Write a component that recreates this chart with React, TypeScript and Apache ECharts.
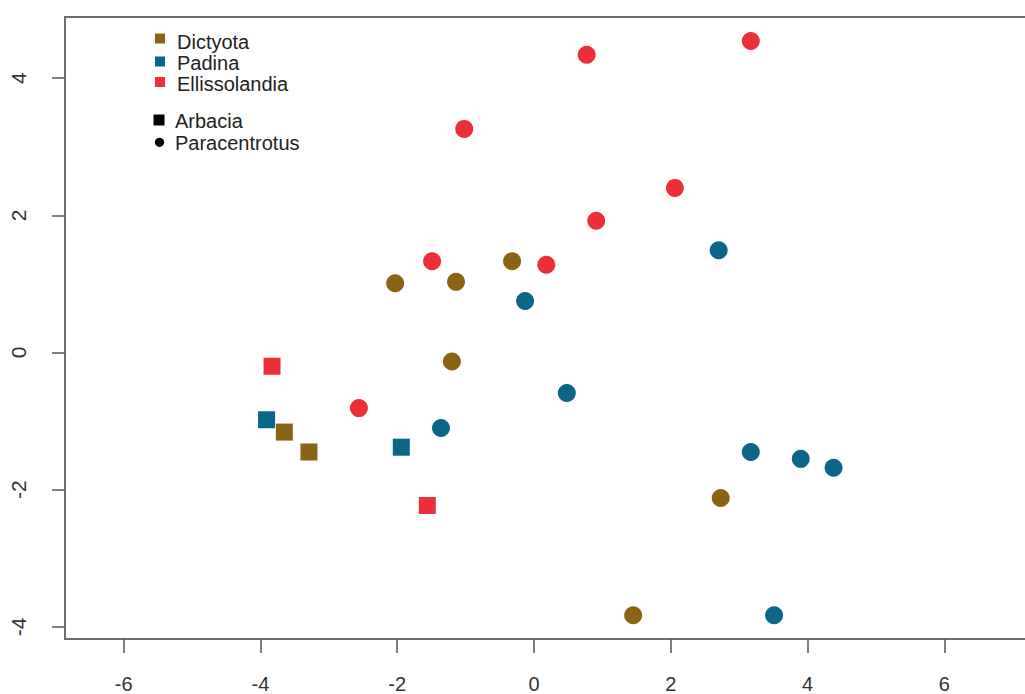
import React, { useEffect, useRef } from "react";
import * as echarts from "echarts";

const xTicks = [-6, -4, -2, 0, 2, 4, 6];
const yTicks = [-4, -2, 0, 2, 4];

const genera = ["Dictyota", "Padina", "Ellissolandia"];
const urchins = ["Arbacia", "Paracentrotus"];
const genusColors = ["#8A6414", "#0B6688", "#EC3039"];

// [x, y]
const dictyotaArbacia = [
  [-3.65, -1.16],
  [-3.29, -1.45],
];
const dictyotaParacentrotus = [
  [-2.03, 1.01],
  [-1.14, 1.03],
  [-0.32, 1.33],
  [-1.2, -0.13],
  [2.73, -2.12],
  [1.45, -3.83],
];
const padinaArbacia = [
  [-3.91, -0.98],
  [-1.94, -1.38],
];
const padinaParacentrotus = [
  [2.7, 1.49],
  [-0.13, 0.75],
  [0.48, -0.59],
  [-1.36, -1.1],
  [3.17, -1.45],
  [3.9, -1.55],
  [4.38, -1.68],
  [3.51, -3.83],
];
const ellissolandiaArbacia = [
  [-3.83, -0.2],
  [-1.56, -2.23],
];
const ellissolandiaParacentrotus = [
  [0.77, 4.34],
  [3.17, 4.54],
  [-1.02, 3.26],
  [2.06, 2.4],
  [0.91, 1.92],
  [-1.49, 1.33],
  [0.18, 1.28],
  [-2.56, -0.81],
];

const groups = [
  { name: "Dictyota Arbacia", data: dictyotaArbacia, color: genusColors[0], shape: "rect" },
  { name: "Dictyota Paracentrotus", data: dictyotaParacentrotus, color: genusColors[0], shape: "circle" },
  { name: "Padina Arbacia", data: padinaArbacia, color: genusColors[1], shape: "rect" },
  { name: "Padina Paracentrotus", data: padinaParacentrotus, color: genusColors[1], shape: "circle" },
  { name: "Ellissolandia Arbacia", data: ellissolandiaArbacia, color: genusColors[2], shape: "rect" },
  { name: "Ellissolandia Paracentrotus", data: ellissolandiaParacentrotus, color: genusColors[2], shape: "circle" },
];

const FONT = "Liberation Sans, Arial, sans-serif";

export default function App() {
  const ref = useRef<HTMLDivElement>(null);
  useEffect(() => {
    if (!ref.current) return;
    const chart = echarts.init(ref.current, null, { renderer: "svg" });
    const legendGraphics: any[] = [];
    const genusSquareY = [38.5, 61.5, 82];
    const genusTextY = [41.5, 63, 83.5];
    genera.forEach((g, i) => {
      legendGraphics.push({
        type: "rect",
        shape: { x: 155, y: genusSquareY[i] - 5, width: 10, height: 10 },
        style: { fill: genusColors[i] },
      });
      legendGraphics.push({
        type: "text",
        x: 177,
        y: genusTextY[i],
        style: { text: g, fill: "#222", font: `20px ${FONT}`, textVerticalAlign: "middle" },
      });
    });
    legendGraphics.push({
      type: "rect",
      shape: { x: 153.5, y: 114.5, width: 11, height: 11 },
      style: { fill: "#000" },
    });
    legendGraphics.push({
      type: "circle",
      shape: { cx: 159.5, cy: 142.3, r: 4.6 },
      style: { fill: "#000" },
    });
    const urchinTextY = [121, 142.5];
    urchins.forEach((u, i) => {
      legendGraphics.push({
        type: "text",
        x: 175,
        y: urchinTextY[i],
        style: { text: u, fill: "#222", font: `20px ${FONT}`, textVerticalAlign: "middle" },
      });
    });

    chart.setOption({
      animation: false,
      backgroundColor: "#fff",
      grid: {
        left: 65,
        top: 17,
        bottom: 55,
        right: 10,
        show: true,
        borderColor: "#6e6e6e",
        borderWidth: 2,
        containLabel: false,
        outerBoundsMode: "none",
      },
      xAxis: {
        type: "value",
        min: -6.857,
        max: 7.325,
        splitLine: { show: false },
        axisLine: { show: false, onZero: false },
        axisTick: { show: true, customValues: xTicks, length: 14, lineStyle: { color: "#555", width: 1.5 } },
        axisLabel: {
          customValues: xTicks,
          margin: 35,
          fontSize: 20,
          fontFamily: FONT,
          color: "#333",
        },
      },
      yAxis: {
        type: "value",
        min: -4.176,
        max: 4.891,
        splitLine: { show: false },
        axisLine: { show: false, onZero: false },
        axisTick: { show: true, customValues: yTicks, length: 13, lineStyle: { color: "#555", width: 1.5 } },
        axisLabel: {
          customValues: yTicks,
          rotate: 90,
          margin: 36,
          fontSize: 21,
          fontFamily: FONT,
          color: "#333",
        },
      },
      series: groups.map((g) => ({
        type: "scatter",
        name: g.name,
        data: g.data,
        symbol: g.shape,
        symbolSize: g.shape === "rect" ? 17 : 18,
        itemStyle: { color: g.color, opacity: 1 },
      })),
      graphic: legendGraphics,
    });
    return () => chart.dispose();
  }, []);
  return (
    <div style={{ position: "absolute", left: 0, top: 0, width: 1025, height: 694, overflow: "hidden" }}>
      <div ref={ref} style={{ width: 1045, height: 694 }} />
    </div>
  );
}
